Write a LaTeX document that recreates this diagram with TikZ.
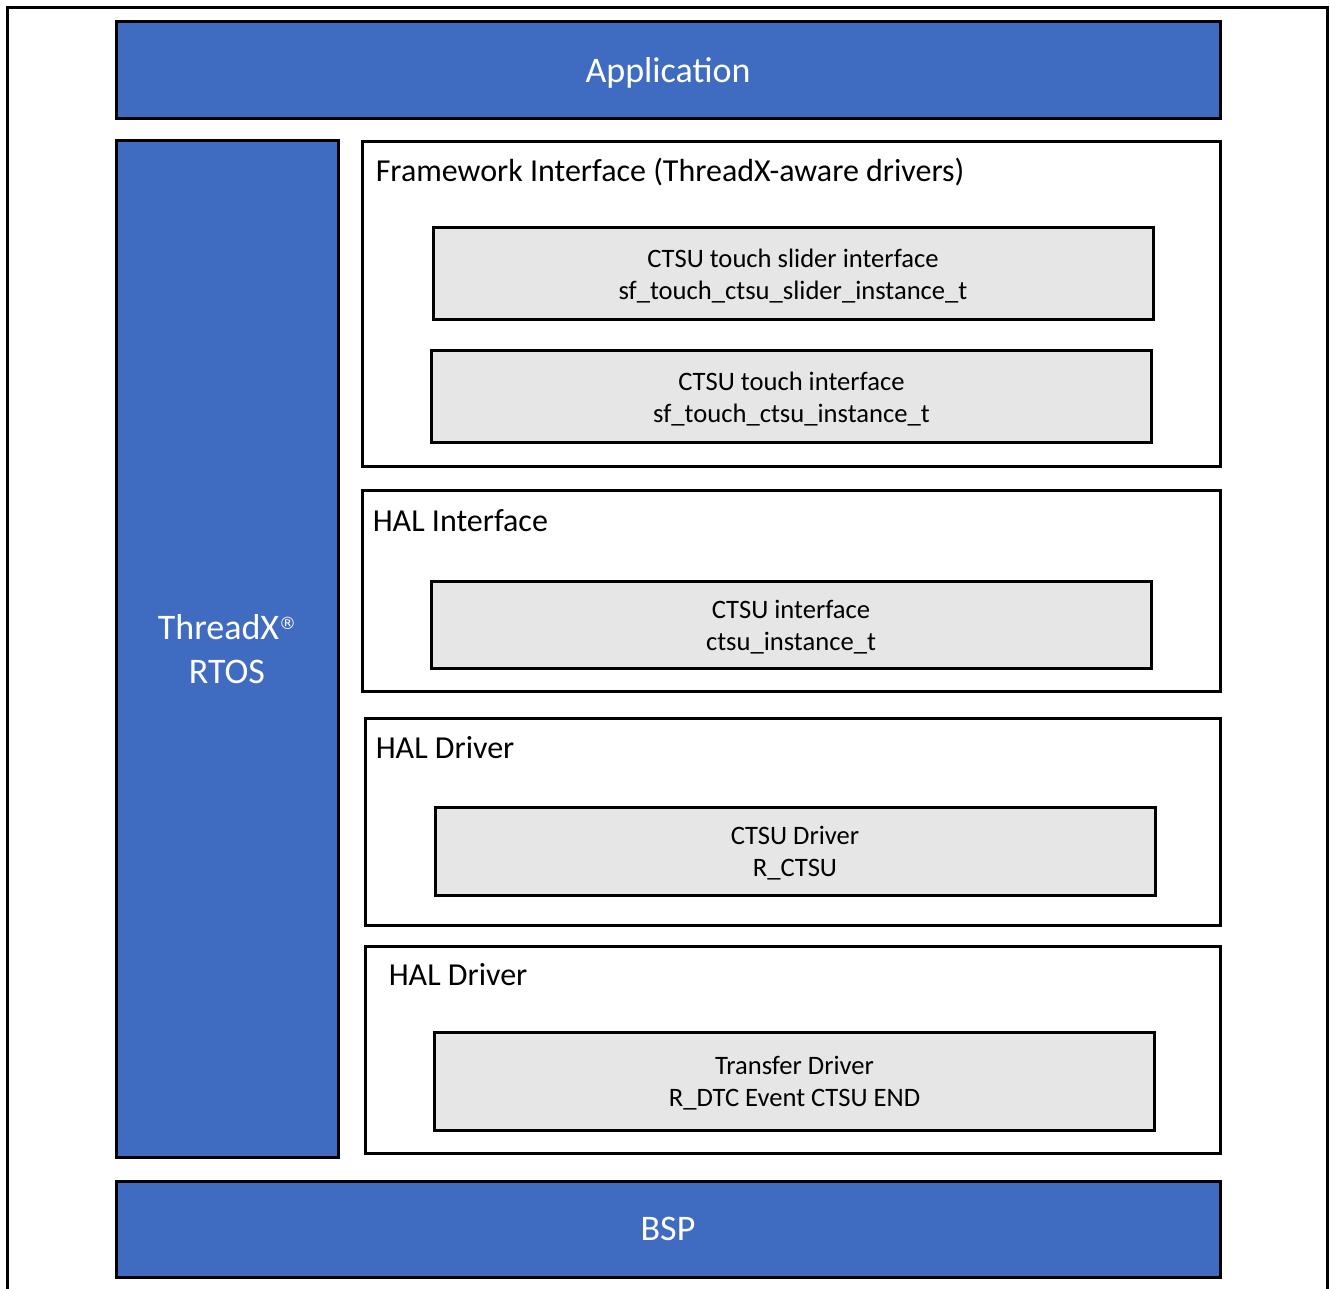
\documentclass[tikz,border=0pt]{standalone}
\usepackage{fontspec}
\setmainfont{Carlito}
\newfontfamily\symfont{DejaVu Sans}
\usetikzlibrary{positioning}

\definecolor{layerblue}{HTML}{3F6CC1}
\definecolor{boxgray}{HTML}{E7E6E6}

\begin{document}
\begin{tikzpicture}[x=0.5pt, y=-0.5pt, thick]
    % Styles
    \tikzstyle{layer} = [rectangle, draw=black, line width=1.5pt, fill=layerblue, text=white, inner sep=0pt, text depth=0pt, font=\fontsize{18}{22}\selectfont, align=center]
    \tikzstyle{group_box} = [rectangle, draw=black, line width=1.5pt, fill=white, inner sep=0pt, minimum width=428pt]
    \tikzstyle{group_title} = [inner sep=0pt, anchor=base west, font=\fontsize{16}{19}\selectfont]
    \tikzstyle{inner_box} = [rectangle, draw=black, line width=1.5pt, fill=boxgray, inner sep=0pt, text depth=0pt, minimum width=360pt, align=center, font=\fontsize{13.3}{16}\selectfont]
    \tikzstyle{frame_line} = [line width=1.5pt, black]

    \useasboundingbox (0,0) rectangle (1330,1289);

    % Outer frame (open at the bottom)
    \draw [frame_line] (7,1289) -- (7,8) -- (1327,8) -- (1327,1289);

    % Top and bottom layers
    \node [layer, minimum width=552pt, minimum height=48.5pt] (app) at (668,70.5) {Application};
    \node [layer, minimum width=552pt, minimum height=48pt] (bsp) at (668,1229) {BSP};

    % RTOS column
    \node [layer, minimum width=111pt, minimum height=508pt] (rtos) at (227,649) {ThreadX\raisebox{5pt}{\symfont\fontsize{8.5}{8.5}\selectfont ®}\\RTOS};

    % Framework interface
    \node [group_box, minimum width=429pt, minimum height=162.5pt] (fw) at (791,304.5) {};
    \node [group_title] (fw_title) at (375,182) {Framework Interface (ThreadX-aware drivers)};
    \node [inner_box, minimum height=46pt] (slider) at (793,274) {CTSU touch slider interface\\sf\_touch\_ctsu\_slider\_instance\_t};
    \node [inner_box, minimum height=46pt] (touch) at (791.5,397) {CTSU touch interface\\sf\_touch\_ctsu\_instance\_t};

    % HAL interface
    \node [group_box, minimum width=429pt, minimum height=100pt] (hal_if) at (791,591) {};
    \node [group_title] (hal_if_title) at (372,531) {HAL Interface};
    \node [inner_box, minimum height=43pt] (ctsu_if) at (791,625) {CTSU interface\\ctsu\_instance\_t};

    % HAL drivers
    \node [group_box, minimum width=427.5pt, minimum height=103.5pt] (hal_drv) at (792.5,821.5) {};
    \node [group_title] (hal_drv_title) at (375,758) {HAL Driver};
    \node [inner_box, minimum height=44pt] (ctsu_drv) at (795,851) {CTSU Driver\\R\_CTSU};

    \node [group_box, minimum width=427.5pt, minimum height=103.5pt] (hal_dtc) at (792.5,1049.5) {};
    \node [group_title] (hal_dtc_title) at (388,985) {HAL Driver};
    \node [inner_box, minimum height=49pt] (dtc_drv) at (794.5,1081) {Transfer Driver\\R\_DTC Event CTSU END};

\end{tikzpicture}
\end{document}
